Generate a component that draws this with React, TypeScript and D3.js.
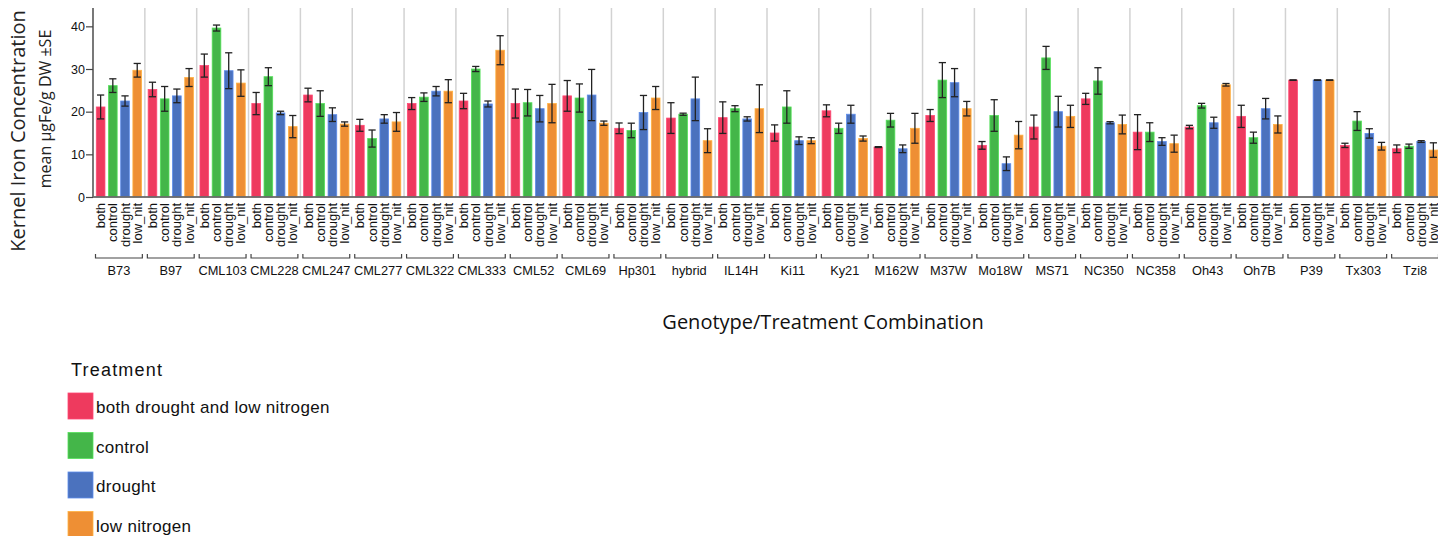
import { useEffect, useRef } from "react";
import * as d3 from "d3";

const genotypes = [
  "B73", "B97", "CML103", "CML228", "CML247", "CML277", "CML322", "CML333",
  "CML52", "CML69", "Hp301", "hybrid", "IL14H", "Ki11", "Ky21", "M162W",
  "M37W", "Mo18W", "MS71", "NC350", "NC358", "Oh43", "Oh7B", "P39", "Tx303", "Tzi8",
];
const treatments = ["both", "control", "drought", "low_nit"];
const legendLabels = ["both drought and low nitrogen", "control", "drought", "low nitrogen"];
const colors = ["#ee3a5e", "#44b649", "#4b72be", "#ee8f34"];
const yTicks = [0, 10, 20, 30, 40];

// mean per genotype, in treatment order (null = no data)
const bothMean = [21.1, 25.2, 30.8, 21.9, 23.9, 16.8, 21.9, 22.5, 21.9, 23.7, 16.1, 18.5, 18.6, 15.0, 20.2, 11.7, 19.1, 12.1, 16.4, 23.0, 15.2, 16.4, 18.9, 27.4, 12.1, 11.3];
const controlMean = [26.1, 23.0, 39.6, 28.2, 21.9, 13.7, 23.4, 30.0, 22.1, 23.2, 15.6, 19.4, 20.7, 21.1, 16.1, 18.0, 27.4, 19.1, 32.6, 27.2, 15.2, 21.4, 13.9, null, 17.8, 11.9];
const droughtMean = [22.5, 23.7, 29.6, 19.7, 19.3, 18.3, 24.8, 21.8, 20.7, 23.9, 19.8, 23.0, 18.3, 13.2, 19.4, 11.3, 26.8, 7.8, 20.0, 17.4, 13.0, 17.4, 20.7, 27.4, 14.9, 13.0];
const lowNitMean = [29.7, 28.0, 26.7, 16.5, 17.1, 17.6, 24.8, 34.4, 21.9, 17.3, 23.2, 13.2, 20.7, 13.2, 13.7, 16.1, 20.7, 14.5, 18.9, 17.0, 12.5, 26.3, 17.0, 27.4, 11.9, 11.0];

// standard errors
const bothSE = [2.8, 1.7, 2.7, 2.6, 1.6, 1.4, 1.4, 1.8, 3.4, 3.6, 1.25, 3.6, 3.7, 1.9, 1.4, 0.1, 1.4, 0.9, 2.8, 1.3, 4.1, 0.4, 2.6, 0.05, 0.5, 0.9];
const controlSE = [1.6, 2.9, 0.7, 2.1, 3.0, 2.0, 1.0, 0.6, 3.1, 3.3, 1.7, 0.25, 0.7, 3.8, 1.2, 1.6, 4.1, 3.7, 2.7, 3.1, 2.2, 0.55, 1.3, null, 2.2, 0.5];
const droughtSE = [1.2, 1.6, 4.2, 0.4, 1.6, 1.0, 1.1, 0.7, 3.1, 6.0, 4.0, 5.1, 0.5, 0.9, 2.1, 0.9, 3.3, 1.6, 3.6, 0.25, 0.9, 1.3, 2.4, 0.05, 1.1, 0.2];
const lowNitSE = [1.6, 2.1, 3.1, 2.6, 0.5, 2.2, 2.7, 3.4, 4.5, 0.5, 2.7, 2.8, 5.6, 0.7, 0.6, 3.5, 1.7, 3.2, 2.6, 2.2, 2.0, 0.3, 2.0, 0.05, 0.9, 1.7];

const means = [bothMean, controlMean, droughtMean, lowNitMean];
const ses = [bothSE, controlSE, droughtSE, lowNitSE];

const width = 1446;
const height = 536;
const margin = { top: 5, right: 5, bottom: 339, left: 93 };

const App = () => {
  const svgRef = useRef<SVGSVGElement>(null);

  useEffect(() => {
    const svg = d3.select(svgRef.current);
    svg.selectAll("*").remove();

    const innerWidth = width - margin.left - margin.right;
    const innerHeight = height - margin.top - margin.bottom;
    const g = svg.append("g").attr("transform", `translate(${margin.left},${margin.top})`);

    const x0 = d3.scaleBand().domain(genotypes).range([0, innerWidth]).padding(0);
    const x1 = d3
      .scaleBand()
      .domain(treatments)
      .range([0, x0.bandwidth()])
      .paddingInner(0.29)
      .paddingOuter(0.27);
    const y = d3.scaleLinear().domain([0, 45]).range([innerHeight, 0]);

    // group separators
    g.selectAll(".sep")
      .data(genotypes.slice(1))
      .enter()
      .append("line")
      .attr("x1", (d) => x0(d)!)
      .attr("x2", (d) => x0(d)!)
      .attr("y1", 0)
      .attr("y2", innerHeight)
      .attr("stroke", "#d2d2d2")
      .attr("stroke-width", 1.5);

    const rows = genotypes.flatMap((gen, i) =>
      treatments.map((t, j) => ({ gen, t, j, mean: means[j][i], se: ses[j][i] }))
    ).filter((d) => d.mean != null);

    // bars
    g.selectAll(".bar")
      .data(rows)
      .enter()
      .append("rect")
      .attr("x", (d) => x0(d.gen)! + x1(d.t)!)
      .attr("y", (d) => y(d.mean as number))
      .attr("width", x1.bandwidth())
      .attr("height", (d) => innerHeight - y(d.mean as number))
      .attr("fill", (d) => colors[d.j])
      .attr("stroke", (d) => d3.color(colors[d.j])!.brighter(0.6).formatHex())
      .attr("stroke-width", 0.8);

    // error bars
    const cap = 3.6;
    const eb = g.selectAll(".err").data(rows).enter().append("g");
    const cx = (d: any) => x0(d.gen)! + x1(d.t)! + x1.bandwidth() / 2;
    eb.append("line")
      .attr("x1", cx)
      .attr("x2", cx)
      .attr("y1", (d) => y(d.mean! + d.se!))
      .attr("y2", (d) => y(d.mean! - d.se!))
      .attr("stroke", "#222")
      .attr("stroke-width", 1.3);
    [1, -1].forEach((s) => {
      eb.append("line")
        .attr("x1", (d) => cx(d) - cap)
        .attr("x2", (d) => cx(d) + cap)
        .attr("y1", (d) => y(d.mean! + s * d.se!))
        .attr("y2", (d) => y(d.mean! + s * d.se!))
        .attr("stroke", "#222")
        .attr("stroke-width", 1.3);
    });

    // frame
    g.append("rect")
      .attr("x", 0)
      .attr("y", 0)
      .attr("width", innerWidth)
      .attr("height", innerHeight)
      .attr("fill", "none")
      .attr("stroke", "#6b6b6b")
      .attr("stroke-width", 1.8);

    // y axis
    const yAxis = g.append("g").call(d3.axisLeft(y).tickValues(yTicks).tickSize(7).tickSizeOuter(0));
    yAxis.select(".domain").remove();
    yAxis.selectAll(".tick line").attr("stroke", "#444").attr("stroke-width", 1.2);
    yAxis
      .selectAll(".tick text")
      .attr("font-family", "Liberation Sans, Arial, sans-serif")
      .attr("font-size", 12.5)
      .attr("fill", "#111")
      .attr("x", -8);

    // treatment labels
    g.selectAll(".tlab")
      .data(genotypes.flatMap((gen) => treatments.map((t) => ({ gen, t }))))
      .enter()
      .append("text")
      .attr(
        "transform",
        (d) => `translate(${x0(d.gen)! + x1(d.t)! + x1.bandwidth() / 2},${innerHeight + 6}) rotate(-90)`
      )
      .attr("dy", "0.35em")
      .attr("text-anchor", "end")
      .attr("font-family", "Liberation Sans, Arial, sans-serif")
      .attr("font-size", 13)
      .attr("fill", "#111")
      .text((d) => d.t);

    // group brackets
    const bracketY = innerHeight + 61;
    const br = g.selectAll(".br").data(genotypes).enter().append("g");
    br.append("path")
      .attr("d", (d) => {
        const a = x0(d)! + 2.5;
        const b = x0(d)! + x0.bandwidth() - 2.5;
        return `M${a},${bracketY - 4}V${bracketY}H${b}V${bracketY - 4}`;
      })
      .attr("fill", "none")
      .attr("stroke", "#444")
      .attr("stroke-width", 1.2);
    br.append("text")
      .attr("x", (d) => x0(d)! + x0.bandwidth() / 2)
      .attr("y", bracketY + 17)
      .attr("text-anchor", "middle")
      .attr("font-family", "Liberation Sans, Arial, sans-serif")
      .attr("font-size", 12.8)
      .attr("fill", "#111")
      .text((d) => d);

    // axis titles
    svg.append("text")
      .attr("transform", `translate(25,131) rotate(-90)`)
      .attr("text-anchor", "middle")
      .attr("font-family", "Open Sans, sans-serif")
      .attr("font-size", 20)
      .attr("fill", "#222")
      .text("Kernel Iron Concentration");
    svg.append("text")
      .attr("transform", `translate(51,109) rotate(-90)`)
      .attr("text-anchor", "middle")
      .attr("font-family", "Open Sans, sans-serif")
      .attr("font-size", 16)
      .attr("fill", "#222")
      .text("mean µgFe/g DW ±SE");
    svg.append("text")
      .attr("x", 823)
      .attr("y", 329)
      .attr("text-anchor", "middle")
      .attr("font-family", "Open Sans, sans-serif")
      .attr("font-size", 20)
      .attr("fill", "#111")
      .text("Genotype/Treatment Combination");

    // legend
    const lg = svg.append("g").attr("transform", "translate(68,0)");
    lg.append("text")
      .attr("x", 3)
      .attr("y", 376)
      .attr("font-family", "Liberation Sans, Arial, sans-serif")
      .attr("font-size", 18)
      .attr("letter-spacing", 1.2)
      .attr("fill", "#111")
      .text("Treatment");
    const item = lg
      .selectAll(".item")
      .data(legendLabels)
      .enter()
      .append("g")
      .attr("transform", (_d, i) => `translate(0,${393 + i * 39.5})`);
    item.append("rect")
      .attr("width", 25)
      .attr("height", 26)
      .attr("fill", (_d, i) => colors[i])
      .attr("stroke", (_d, i) => d3.color(colors[i])!.brighter(0.6).formatHex())
      .attr("stroke-width", 0.8);
    item.append("text")
      .attr("x", 28)
      .attr("y", 20)
      .attr("font-family", "Liberation Sans, Arial, sans-serif")
      .attr("font-size", 17)
      .attr("letter-spacing", 0.3)
      .attr("fill", "#111")
      .text((d) => d);
  }, []);

  return (
    <svg
      ref={svgRef}
      width={width}
      height={height}
      style={{ display: "block", margin: "-8px 0 0 -8px", background: "#fff" }}
    />
  );
};

export default App;
